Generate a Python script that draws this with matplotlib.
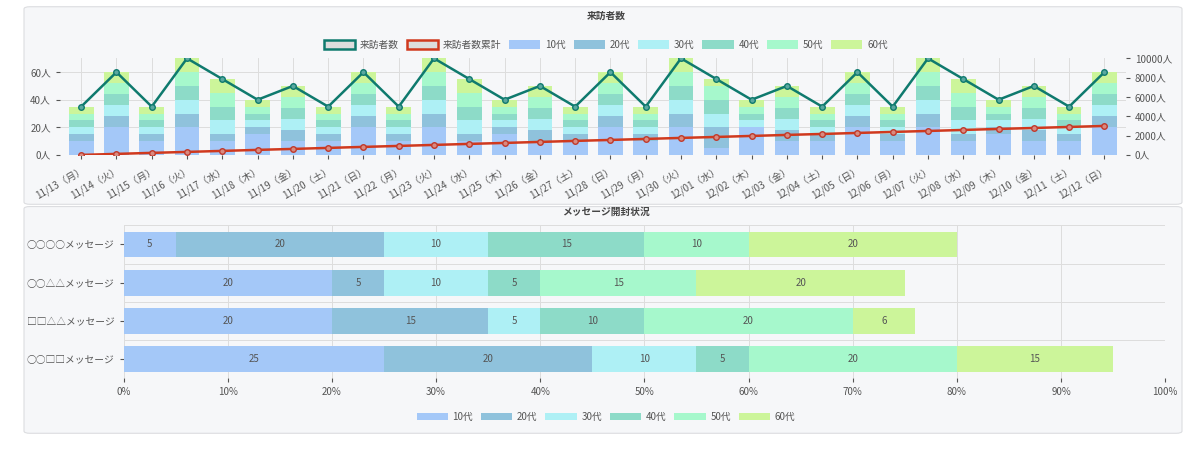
import matplotlib
matplotlib.use("Agg")
import matplotlib.pyplot as plt
import numpy as np
from matplotlib.patches import FancyBboxPatch, Patch

plt.rcParams["font.family"] = ["Noto Sans CJK JP", "DejaVu Sans"]

dates = ["11/13（月）","11/14（火）","11/15（月）","11/16（火）","11/17（水）","11/18（木）","11/19（金）","11/20（土）",
         "11/21（日）","11/22（月）","11/23（火）","11/24（水）","11/25（木）","11/26（金）","11/27（土）","11/28（日）",
         "11/29（月）","11/30（火）","12/01（水）","12/02（木）","12/03（金）","12/04（土）","12/05（日）","12/06（月）",
         "12/07（火）","12/08（水）","12/09（木）","12/10（金）","12/11（土）","12/12（日）"]
ages = ["10代","20代","30代","40代","50代","60代"]
age_colors = ["#a4c8f8","#8fc2dc","#aef0f5","#8ddbc8","#a6f8cc","#ccf59a"]

p35 = [10,5,5,5,5,5]; p60 = [20,8,8,8,8,8]; p70 = [20,10,10,10,10,10]
p55 = [10,5,10,10,10,10]; p40 = [15,5,5,5,5,5]; p50 = [10,8,8,8,8,8]
p55b = [5,15,10,10,10,5]; p40b = [20,0,5,5,5,5]; p50b = [10,8,8,8,8,8]
pattern = [p35,p60,p35,p70,p55,p40,p50]
pattern2 = [p35,p60,p35,p70,p55b,p40b,p50b]
daily_by_age = np.array((pattern + pattern + pattern2 + pattern + [p35, p60])).T  # 6 x 30
visitors = daily_by_age.sum(axis=0)
cumulative = [0,105,210,310,415,520,620,725,830,930,1035,1140,1240,1345,1450,1550,
              1655,1760,1860,1965,2070,2170,2275,2380,2480,2585,2690,2790,2895,3000]

messages = ["○○□□メッセージ","□□△△メッセージ","○○△△メッセージ","○○○○メッセージ"]
open_pct = np.array([
    [25,20,10,5,20,15],
    [20,15,5,10,20,6],
    [20,5,10,5,15,20],
    [5,20,10,15,10,20],
])

fig = plt.figure(figsize=(12,4.49), dpi=100)
fig.patch.set_facecolor("white")
for (y0,h) in [(0.545,0.44),(0.035,0.505)]:
    fig.patches.append(FancyBboxPatch((0.02,y0),0.965,h,boxstyle="round,pad=0,rounding_size=0.005",
                                      transform=fig.transFigure,fc="#f6f7f9",ec="#dcdde0",lw=0.8,zorder=-10))

# top chart
ax = fig.add_axes([0.05,0.655,0.888,0.215])
ax.set_facecolor("#f6f7f9")
x = np.arange(len(dates))
bottom = np.zeros(len(dates))
for i in range(6):
    ax.bar(x, daily_by_age[i], bottom=bottom, width=0.7, color=age_colors[i], zorder=2)
    bottom += daily_by_age[i]
ax.plot(x, visitors, color="#0f7a6e", lw=1.8, marker="o", ms=4, mfc="#5aa8a0", mec="#0f7a6e", zorder=4)
ax.set_ylim(0,70); ax.set_xlim(-0.6,len(dates)-0.4)
ax.set_yticks([0,20,40,60]); ax.set_yticklabels(["0人","20人","40人","60人"])
ax.set_xticks(x); ax.set_xticklabels(dates, rotation=30, ha="right", rotation_mode="anchor")
ax.tick_params(labelsize=7, colors="#555555", length=3)
ax.grid(True, color="#dddddd", lw=0.7, zorder=0)
ax.set_axisbelow(True)
for s in ax.spines.values(): s.set_visible(False)
ax2 = ax.twinx()
ax2.plot(x, cumulative, color="#d0391e", lw=1.8, marker="o", ms=4, mfc="#d98a80", mec="#c0392b", zorder=5)
ax2.set_ylim(0,10000); ax2.set_yticks(range(0,10001,2000))
ax2.set_yticklabels([f"{v}人" for v in range(0,10001,2000)])
ax2.tick_params(labelsize=7, colors="#555555", length=3)
for s in ax2.spines.values(): s.set_visible(False)
fig.text(0.505,0.965,"来訪者数",ha="center",va="center",fontsize=7,fontweight="bold",color="#444")
handles = [Patch(fc="#dddddd",ec="#0f7a6e",lw=1.8,label="来訪者数"),
           Patch(fc="#dddddd",ec="#d0391e",lw=1.8,label="来訪者数累計")] + \
          [Patch(fc=c,label=a) for c,a in zip(age_colors,ages)]
fig.legend(handles=handles, loc="center", bbox_to_anchor=(0.505,0.9), ncol=8, frameon=False,
           fontsize=7, handlelength=3.2, handleheight=1.0, columnspacing=0.8, handletextpad=0.5,
           labelcolor="#555555")

# bottom chart
bx = fig.add_axes([0.103,0.158,0.868,0.34])
bx.set_facecolor("#f6f7f9")
y = np.arange(len(messages))
left = np.zeros(len(messages))
for i in range(6):
    vals = open_pct[:,i]
    bx.barh(y, vals, left=left, height=0.68, color=age_colors[i], zorder=2)
    for yi,(l,v) in enumerate(zip(left,vals)):
        bx.text(l+v/2, yi, str(v), ha="center", va="center", fontsize=7, color="#555555", zorder=3)
    left += vals
bx.set_xlim(0,100); bx.set_ylim(-0.5,len(messages)-0.5)
bx.set_xticks(range(0,101,10)); bx.set_xticklabels([f"{v}%" for v in range(0,101,10)])
bx.set_yticks(y); bx.set_yticklabels(messages)
bx.tick_params(labelsize=7, colors="#555555", length=3)
bx.set_yticks(np.arange(-0.5,len(messages),1), minor=True)
bx.grid(True, axis="x", color="#dddddd", lw=0.7, zorder=0)
bx.grid(True, axis="y", which="minor", color="#dddddd", lw=0.7, zorder=0)
bx.set_axisbelow(True)
bx.tick_params(which="minor", length=0)
for s in bx.spines.values(): s.set_visible(False)
fig.text(0.505,0.528,"メッセージ開封状況",ha="center",va="center",fontsize=7,fontweight="bold",color="#444")
fig.legend(handles=[Patch(fc=c,label=a) for c,a in zip(age_colors,ages)], loc="center",
           bbox_to_anchor=(0.505,0.072), ncol=6, frameon=False, fontsize=7, handlelength=3.2,
           columnspacing=0.8, handletextpad=0.5, labelcolor="#555555")

fig.savefig("out.png", dpi=100, facecolor="white")
